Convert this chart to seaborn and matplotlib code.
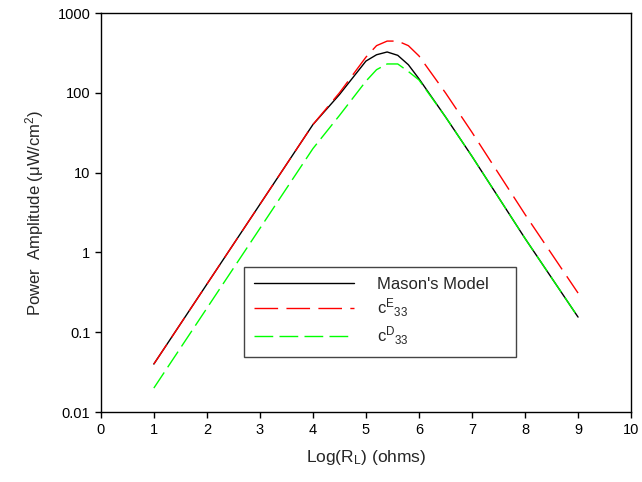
import numpy as np
import pandas as pd
import seaborn as sns
import matplotlib.pyplot as plt
from matplotlib import ticker

# log(R_L) values and power amplitude (uW/cm^2)
log_rl = [1, 2, 3, 4, 4.5, 5, 5.2, 5.4, 5.6, 5.8, 6, 6.5, 7, 8, 9]
mason = [0.04, 0.4, 4, 40, 95, 250, 300, 325, 295, 225, 150, 50, 16, 1.5, 0.155]
c_e33 = [0.04, 0.4, 4, 40, 100, 280, 390, 445, 445, 390, 290, 100, 32, 3.0, 0.31]
c_d33 = [0.02, 0.2, 2, 20, 52, 140, 195, 230, 230, 185, 145, 50, 16, 1.5, 0.155]

labels = ["Mason's Model", r"c$^{\mathrm{E}}{}_{\mathrm{33}}$", r"c$^{\mathrm{D}}{}_{\mathrm{33}}$"]

sns.set_style("ticks")
plt.rcParams['font.family'] = ['Liberation Sans', 'DejaVu Sans']
plt.rcParams['mathtext.fontset'] = 'custom'
plt.rcParams['mathtext.rm'] = 'Liberation Sans'
plt.rcParams['mathtext.it'] = 'Liberation Sans'

fig = plt.figure(figsize=(6.42, 4.82), dpi=100)
ax = fig.add_axes([0.157, 0.145, 0.826, 0.828])

sns.lineplot(x=log_rl, y=mason, color='black', linewidth=1.0, label=labels[0], ax=ax)
sns.lineplot(x=log_rl, y=c_e33, color='#ff0000', linewidth=1.0,
             linestyle=(0, (17, 6)), label=labels[1], ax=ax)
sns.lineplot(x=log_rl, y=c_d33, color='#00ff00', linewidth=1.0,
             linestyle=(0, (13.5, 4.5)), label=labels[2], ax=ax)

ax.set_yscale('log')
ax.set_xlim(0, 10)
ax.set_ylim(0.01, 1000)
ax.set_xticks(range(0, 11))
ax.set_yticks([0.01, 0.1, 1, 10, 100, 1000])
ax.yaxis.set_major_formatter(ticker.FuncFormatter(lambda v, p: f"{v:g}"))
ax.yaxis.set_minor_locator(ticker.NullLocator())
ax.tick_params(direction='out', length=4, width=1, labelsize=10.5, colors='black')

for s in ax.spines.values():
    s.set_visible(True)
    s.set_color('black')
    s.set_linewidth(1.0)

ax.set_xlabel(r"Log(R$_{\mathrm{L}}$) (ohms)", fontsize=12.5, labelpad=8)
ax.set_ylabel(r"Power  Amplitude ($\mathrm{\mu}$W/cm$^{\mathrm{2}}$)", fontsize=12, labelpad=8)

leg = ax.legend(loc='lower left', bbox_to_anchor=(0.27, 0.138, 0.513, 0.22), mode='expand',
                borderaxespad=0, fontsize=12, handlelength=6.0, handletextpad=1.4,
                labelspacing=0.3, fancybox=False, framealpha=1, edgecolor='#444444',
                borderpad=0.6)
leg.get_frame().set_linewidth(1.0)

fig.savefig('out.png', dpi=100)
